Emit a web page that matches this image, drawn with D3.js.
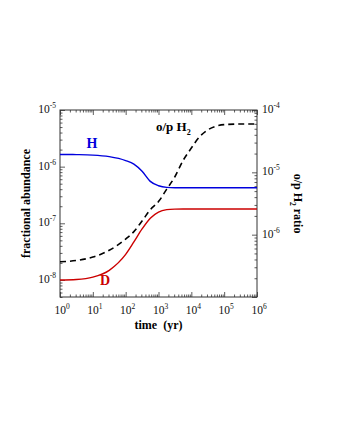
<!DOCTYPE html>
<html>
<head>
<meta charset="utf-8">
<script src="https://cdn.jsdelivr.net/npm/d3@7"></script>
<style>
  body { margin: 0; background: #fff; }
  svg text { font-family: "Liberation Serif", "Times New Roman", serif; }
</style>
</head>
<body>
<div id="chart"></div>
<script>
// time grid (yr) and values
const times = [1, 3.16, 10, 31.6, 100, 178, 316, 562, 1000, 1780, 3160, 5620, 1e4, 1.78e4, 3.16e4, 5.62e4, 1e5, 3.16e5, 1e6];
const abundH = [1.64e-6, 1.63e-6, 1.6e-6, 1.5e-6, 1.28e-6, 1.11e-6, 8.3e-7, 5.5e-7, 4.6e-7, 4.3e-7, 4.25e-7, 4.25e-7, 4.25e-7, 4.25e-7, 4.25e-7, 4.25e-7, 4.25e-7, 4.25e-7, 4.25e-7];
const abundD = [1e-8, 1.02e-8, 1.12e-8, 1.48e-8, 2.82e-8, 4.68e-8, 7.94e-8, 1.23e-7, 1.58e-7, 1.74e-7, 1.78e-7, 1.79e-7, 1.79e-7, 1.79e-7, 1.79e-7, 1.79e-7, 1.79e-7, 1.79e-7, 1.79e-7];
const ratioOP = [3.68e-7, 3.85e-7, 4.37e-7, 5.62e-7, 8.5e-7, 1.12e-6, 1.66e-6, 2.51e-6, 3.39e-6, 5.37e-6, 8.5e-6, 1.55e-5, 2.45e-5, 3.72e-5, 4.79e-5, 5.5e-5, 5.82e-5, 5.96e-5, 5.96e-5];

const xTickExp = [0, 1, 2, 3, 4, 5, 6];
const leftTickExp = [-8, -7, -6, -5];
const rightTickExp = [-6, -5, -4];

const width = 337, height = 436;
const margin = { left: 60, right: 80, top: 110, bottom: 139 };
const plotW = width - margin.left - margin.right;
const plotH = height - margin.top - margin.bottom;

const svg = d3.select("#chart").append("svg")
    .attr("width", width)
    .attr("height", height);

const g = svg.append("g").attr("transform", `translate(${margin.left},${margin.top})`);

const x = d3.scaleLog().domain([1, 1e6]).range([0, plotW]);
const yL = d3.scaleLog().domain([5e-9, 1e-5]).range([plotH, 0]);
const yR = d3.scaleLog().domain([1e-7, 1e-4]).range([plotH, 0]);

function minors(lo, hi) {
    const out = [];
    for (let e = lo; e < hi; e++) {
        for (let m = 2; m <= 9; m++) out.push(m * Math.pow(10, e));
    }
    return out;
}

const axisColor = "#333";

// major + minor ticks, all pointing inward
function drawAxis(axisFn, scale, majors, minorVals, transform) {
    const ga = g.append("g").attr("transform", transform);
    ga.call(axisFn(scale).tickValues(majors).tickSizeInner(-5).tickSizeOuter(0).tickFormat(""));
    const gm = g.append("g").attr("transform", transform);
    gm.call(axisFn(scale).tickValues(minorVals).tickSizeInner(-2.5).tickSizeOuter(0).tickFormat(""));
    [ga, gm].forEach(a => {
        a.select(".domain").remove();
        a.selectAll("line").attr("stroke", axisColor).attr("stroke-width", 0.8);
    });
}

const xMaj = xTickExp.map(e => Math.pow(10, e));
drawAxis(d3.axisBottom, x, xMaj, minors(0, 6), `translate(0,${plotH})`);
drawAxis(d3.axisTop, x, xMaj, minors(0, 6), "translate(0,0)");
drawAxis(d3.axisLeft, yL, [1e-8, 1e-7, 1e-6, 1e-5], minors(-9, -5).filter(v => v >= 5e-9), "translate(0,0)");
drawAxis(d3.axisRight, yR, [1e-7, 1e-6, 1e-5, 1e-4], minors(-7, -4), `translate(${plotW},0)`);

// frame
g.append("rect")
    .attr("width", plotW)
    .attr("height", plotH)
    .attr("fill", "none")
    .attr("stroke", axisColor)
    .attr("stroke-width", 1);

// tick labels 10^n
function powLabel(sel, exp, anchor) {
    const t = sel.append("text")
        .attr("text-anchor", anchor)
        .attr("font-size", 11.5)
        .attr("fill", "#111");
    t.append("tspan").text("10");
    t.append("tspan").attr("dy", -5).attr("font-size", 7.5).text(exp);
    return t;
}

xTickExp.forEach(e => {
    powLabel(g, e, "middle")
        .attr("x", x(Math.pow(10, e)) + 2)
        .attr("y", plotH + 17);
});
leftTickExp.forEach(e => {
    powLabel(g, e, "end")
        .attr("x", -4)
        .attr("y", yL(Math.pow(10, e)) + 3);
});
rightTickExp.forEach(e => {
    powLabel(g, e, "start")
        .attr("x", plotW + 5)
        .attr("y", yR(Math.pow(10, e)) + 3);
});

// curves
const lineL = d3.line()
    .x((d, i) => x(times[i]))
    .y(d => yL(d))
    .curve(d3.curveMonotoneX);
const lineR = d3.line()
    .x((d, i) => x(times[i]))
    .y(d => yR(d))
    .curve(d3.curveMonotoneX);

g.append("path").datum(abundH)
    .attr("d", lineL)
    .attr("fill", "none")
    .attr("stroke", "#0000dd")
    .attr("stroke-width", 1.4);

g.append("path").datum(abundD)
    .attr("d", lineL)
    .attr("fill", "none")
    .attr("stroke", "#cc0000")
    .attr("stroke-width", 1.4);

g.append("path").datum(ratioOP)
    .attr("d", lineR)
    .attr("fill", "none")
    .attr("stroke", "#000")
    .attr("stroke-width", 1.6)
    .attr("stroke-dasharray", "6,4");

// curve labels
svg.append("text")
    .attr("x", 92).attr("y", 148)
    .attr("text-anchor", "middle")
    .attr("font-size", 14).attr("font-weight", "bold")
    .attr("fill", "#0000dd")
    .text("H");

svg.append("text")
    .attr("x", 105).attr("y", 285)
    .attr("text-anchor", "middle")
    .attr("font-size", 14).attr("font-weight", "bold")
    .attr("fill", "#cc0000")
    .text("D");

const op = svg.append("text")
    .attr("x", 156).attr("y", 131)
    .attr("font-size", 13).attr("font-weight", "bold")
    .attr("fill", "#000");
op.append("tspan").text("o/p H");
op.append("tspan").attr("dy", 4).attr("font-size", 8).text("2");

// axis titles
svg.append("text")
    .attr("transform", `translate(30,${margin.top + plotH / 2}) rotate(-90)`)
    .attr("text-anchor", "middle")
    .attr("font-size", 12).attr("font-weight", "bold")
    .text("fractional abundance");

svg.append("text")
    .attr("x", margin.left + plotW / 2)
    .attr("y", 329)
    .attr("text-anchor", "middle")
    .attr("font-size", 12).attr("font-weight", "bold")
    .style("white-space", "pre")
    .text("time  (yr)");

const rt = svg.append("text")
    .attr("transform", `translate(294,${margin.top + plotH / 2}) rotate(90)`)
    .attr("text-anchor", "middle")
    .attr("font-size", 12).attr("font-weight", "bold");
rt.append("tspan").text("o/p H");
rt.append("tspan").attr("dy", 4).attr("font-size", 7.5).text("2");
rt.append("tspan").attr("dy", -4).text(" ratio");
</script>
</body>
</html>
